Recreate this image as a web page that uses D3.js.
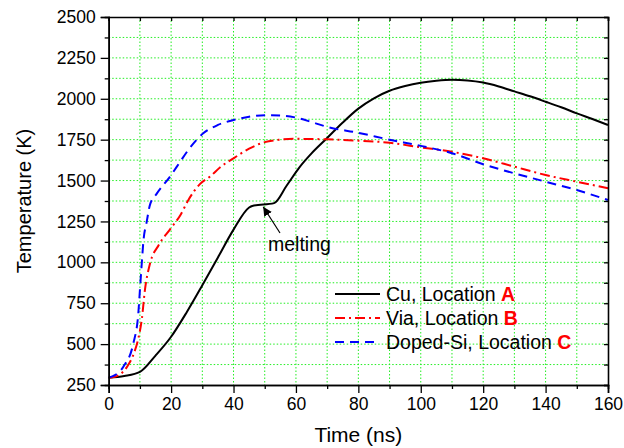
<!DOCTYPE html>
<html>
<head>
<meta charset="utf-8">
<script src="https://cdn.jsdelivr.net/npm/d3@7"></script>
<style>
  body { margin: 0; background: #fff; }
  svg { display: block; font-family: "Liberation Sans", Arial, sans-serif; }
</style>
</head>
<body>
<svg id="chart" width="624" height="448"></svg>
<script>
// Cu, Location A
const timeCu = [0, 5, 10, 15, 20, 25, 30, 35, 40, 45, 46, 53, 57, 61, 65, 70, 75, 80, 85, 90, 95, 100, 105, 110, 115, 120, 125, 130, 135, 140, 145, 150, 155, 160];
const tempCu = [295, 305, 330, 430, 545, 695, 860, 1030, 1200, 1335, 1345, 1362, 1468, 1578, 1666, 1760, 1855, 1940, 2003, 2049, 2078, 2098, 2110, 2116, 2112, 2099, 2075, 2045, 2015, 1982, 1948, 1911, 1876, 1840];

// Via, Location B
const timeVia = [0, 2, 4, 6, 8, 9.5, 10.6, 11.6, 13.2, 16, 19.6, 23, 25.5, 29.3, 32.5, 36, 40, 45, 50, 55, 60, 70, 80, 90, 100, 110, 120, 130, 140, 150, 160];
const tempVia = [295, 300, 320, 365, 440, 535, 650, 830, 990, 1105, 1200, 1290, 1380, 1480, 1525, 1585, 1636, 1695, 1735, 1750, 1755, 1752, 1744, 1731, 1703, 1676, 1636, 1585, 1534, 1493, 1453];

// Doped-Si, Location C
const timeSi = [0, 2, 4.7, 7.9, 9.5, 10, 10.6, 11.1, 12.2, 13.2, 15.4, 19.6, 22.9, 25.5, 30.3, 35, 40, 45, 50, 55, 60, 65, 70, 80, 90, 100, 110, 120, 130, 140, 150, 160];
const tempSi = [295, 310, 362, 505, 690, 830, 995, 1125, 1250, 1350, 1420, 1523, 1615, 1687, 1789, 1840, 1870, 1890, 1900, 1898, 1885, 1858, 1828, 1792, 1750, 1712, 1667, 1600, 1544, 1493, 1442, 1381];

const xMajor = [0, 20, 40, 60, 80, 100, 120, 140, 160];
const yMajor = [250, 500, 750, 1000, 1250, 1500, 1750, 2000, 2250, 2500];

const series = [
  { name: 'Cu, Location ', letter: 'A', t: timeCu, v: tempCu, color: '#000000', dash: null },
  { name: 'Via, Location ', letter: 'B', t: timeVia, v: tempVia, color: '#ff0000', dash: '10,4,2,4' },
  { name: 'Doped-Si, Location ', letter: 'C', t: timeSi, v: tempSi, color: '#0000ff', dash: '9,6' }
];

const svg = d3.select('#chart');
const plotLeft = 108.7, plotRight = 608, plotTop = 17, plotBottom = 385;

const x = d3.scaleLinear().domain([0, 160]).range([plotLeft, plotRight]);
const y = d3.scaleLinear().domain([250, 2500]).range([plotBottom, plotTop]);

const xMinor = d3.range(10, 160, 20);
const yMinor = d3.range(375, 2500, 250);

// grid
const grid = svg.append('g')
  .attr('stroke', '#22ee22')
  .attr('stroke-width', 1)
  .attr('stroke-dasharray', '1.5,2');
d3.range(10, 160, 10).forEach(t => {
  grid.append('line').attr('x1', x(t)).attr('x2', x(t)).attr('y1', plotTop).attr('y2', plotBottom);
});
d3.range(375, 2500, 125).forEach(v => {
  grid.append('line').attr('x1', plotLeft).attr('x2', plotRight).attr('y1', y(v)).attr('y2', y(v));
});

// curves
const line = d3.line()
  .x(d => x(d[0]))
  .y(d => y(d[1]))
  .curve(d3.curveMonotoneX);

series.forEach(s => {
  svg.append('path')
    .datum(s.t.map((t, i) => [t, s.v[i]]))
    .attr('d', line)
    .attr('fill', 'none')
    .attr('stroke', s.color)
    .attr('stroke-width', 2)
    .attr('stroke-dasharray', s.dash);
});

// axes
const fontSize = 17.5;
svg.append('g')
  .attr('transform', `translate(0,${plotBottom})`)
  .call(d3.axisBottom(x).tickValues(xMajor).tickSize(8).tickPadding(5).tickFormat(d3.format('d')));
svg.append('g')
  .attr('transform', `translate(0,${plotBottom})`)
  .call(d3.axisBottom(x).tickValues(xMinor).tickSize(4).tickFormat(''));

svg.append('g')
  .attr('transform', `translate(${plotLeft},0)`)
  .call(d3.axisLeft(y).tickValues(yMajor).tickSize(8).tickPadding(5).tickFormat(d3.format('d')));
svg.append('g')
  .attr('transform', `translate(${plotLeft},0)`)
  .call(d3.axisLeft(y).tickValues(yMinor).tickSize(4).tickFormat(''));

svg.append('g')
  .attr('transform', `translate(0,${plotTop})`)
  .call(d3.axisBottom(x).tickValues(d3.range(0, 161, 10)).tickSize(4).tickFormat(''));
svg.append('g')
  .attr('transform', `translate(${plotRight},0)`)
  .call(d3.axisLeft(y).tickValues(d3.range(250, 2501, 125)).tickSize(4).tickFormat(''));

svg.selectAll('.domain').attr('stroke', '#000').attr('stroke-width', 1.6);
svg.selectAll('.tick line').attr('stroke', '#000').attr('stroke-width', 1.3);
svg.selectAll('.tick text')
  .attr('font-size', fontSize)
  .attr('font-family', '"Liberation Sans", Arial, sans-serif')
  .attr('fill', '#000');

// axis titles
svg.append('text')
  .attr('x', (plotLeft + plotRight) / 2)
  .attr('y', 442)
  .attr('text-anchor', 'middle')
  .attr('font-size', 21)
  .text('Time (ns)');

svg.append('text')
  .attr('transform', `translate(31,${(plotTop + plotBottom) / 2}) rotate(-90)`)
  .attr('text-anchor', 'middle')
  .attr('font-size', 20)
  .text('Temperature (K)');

// melting annotation
svg.append('defs').append('marker')
  .attr('id', 'arrow')
  .attr('viewBox', '0 0 10 10')
  .attr('refX', 10).attr('refY', 5)
  .attr('markerWidth', 9).attr('markerHeight', 9)
  .attr('markerUnits', 'userSpaceOnUse')
  .attr('orient', 'auto')
  .append('path')
  .attr('d', 'M0,0 L10,5 L0,10 Z')
  .attr('fill', '#000');

svg.append('line')
  .attr('x1', 280).attr('y1', 233)
  .attr('x2', x(49.5)).attr('y2', y(1352) + 2)
  .attr('stroke', '#000')
  .attr('stroke-width', 1.2)
  .attr('marker-end', 'url(#arrow)');

svg.append('text')
  .attr('x', 268)
  .attr('y', 251)
  .attr('font-size', 19.5)
  .text('melting');

// legend
const legend = svg.append('g');
const rowY = [294, 318, 342];
series.forEach((s, i) => {
  legend.append('line')
    .attr('x1', 335).attr('x2', 380)
    .attr('y1', rowY[i]).attr('y2', rowY[i])
    .attr('stroke', s.color)
    .attr('stroke-width', 2)
    .attr('stroke-dasharray', s.dash);
  const txt = legend.append('text')
    .attr('x', 386)
    .attr('y', rowY[i] + 7)
    .attr('font-size', 19.5);
  txt.append('tspan').text(s.name);
  txt.append('tspan').attr('fill', '#ff0000').attr('font-weight', 'bold').text(s.letter);
});
</script>
</body>
</html>
